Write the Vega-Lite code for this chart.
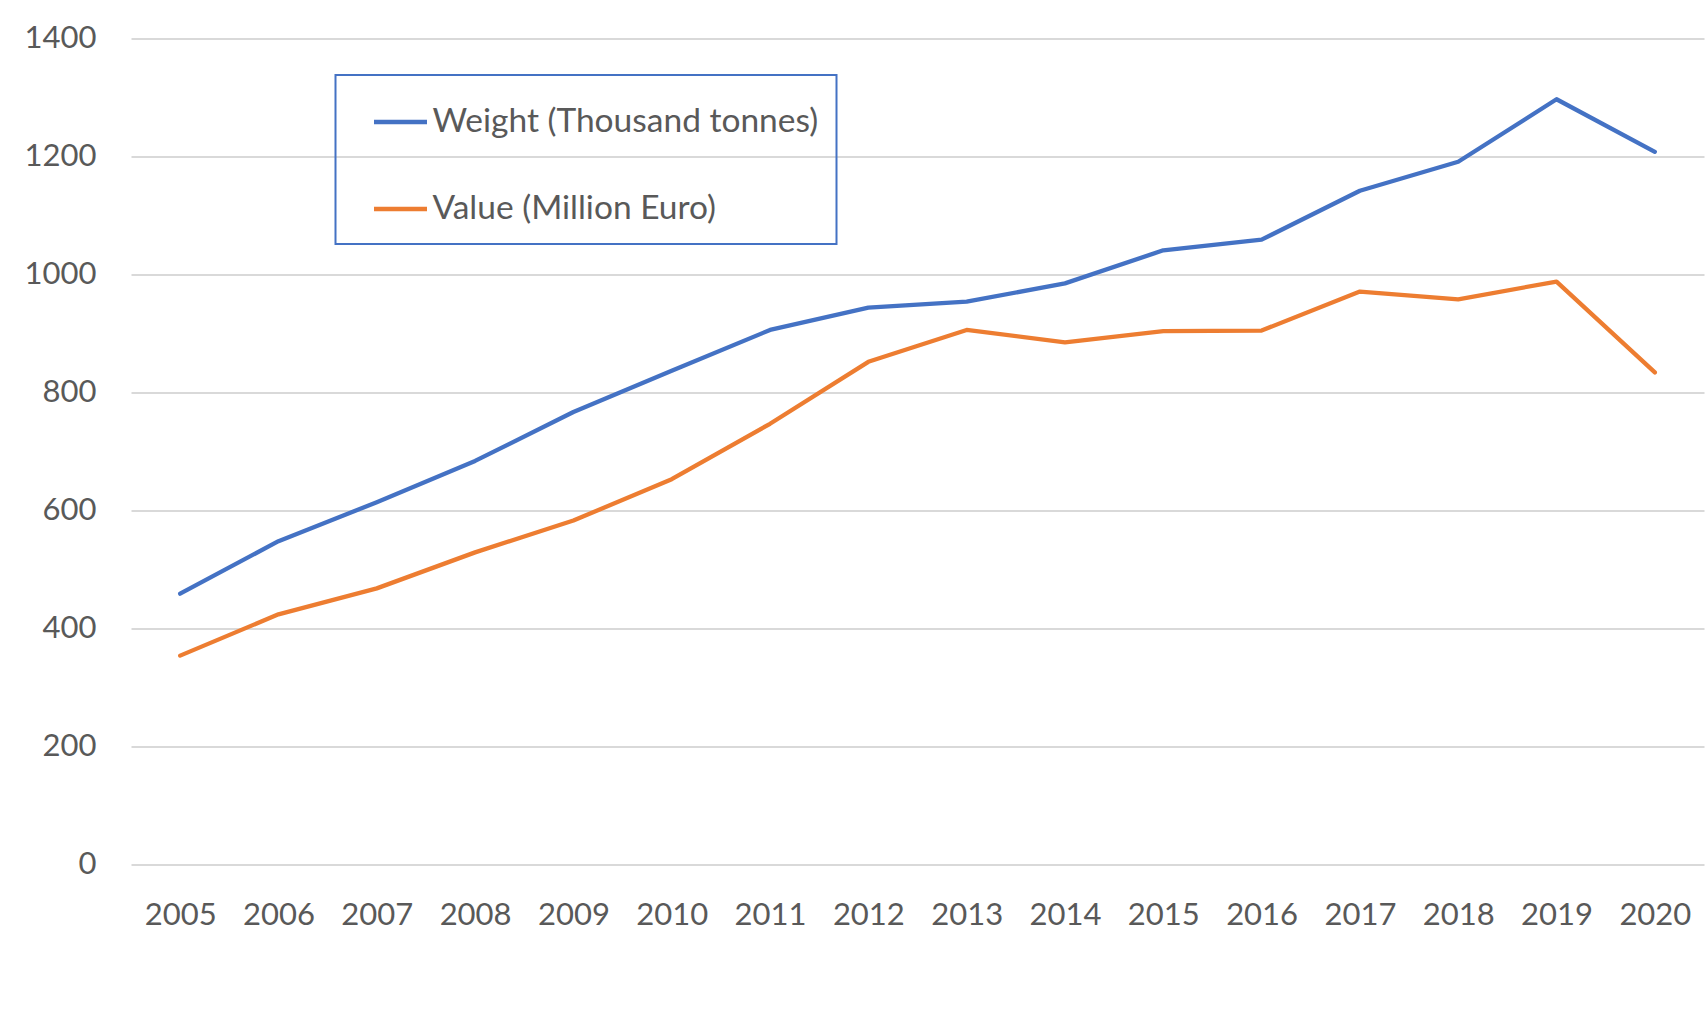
{
  "$schema": "https://vega.github.io/schema/vega-lite/v6.json",
  "width": 1573,
  "height": 826,
  "autosize": {"type": "none"},
  "padding": {"left": 131, "top": 38.5, "right": 4, "bottom": 155.5},
  "background": "white",
  "data": {
    "values": [
      {"year": "2005", "series": "Weight (Thousand tonnes)", "v": 459},
      {"year": "2006", "series": "Weight (Thousand tonnes)", "v": 548},
      {"year": "2007", "series": "Weight (Thousand tonnes)", "v": 614},
      {"year": "2008", "series": "Weight (Thousand tonnes)", "v": 684},
      {"year": "2009", "series": "Weight (Thousand tonnes)", "v": 767},
      {"year": "2010", "series": "Weight (Thousand tonnes)", "v": 837},
      {"year": "2011", "series": "Weight (Thousand tonnes)", "v": 906},
      {"year": "2012", "series": "Weight (Thousand tonnes)", "v": 944},
      {"year": "2013", "series": "Weight (Thousand tonnes)", "v": 954},
      {"year": "2014", "series": "Weight (Thousand tonnes)", "v": 985},
      {"year": "2015", "series": "Weight (Thousand tonnes)", "v": 1041},
      {"year": "2016", "series": "Weight (Thousand tonnes)", "v": 1059},
      {"year": "2017", "series": "Weight (Thousand tonnes)", "v": 1142},
      {"year": "2018", "series": "Weight (Thousand tonnes)", "v": 1191},
      {"year": "2019", "series": "Weight (Thousand tonnes)", "v": 1297},
      {"year": "2020", "series": "Weight (Thousand tonnes)", "v": 1208},
      {"year": "2005", "series": "Value (Million Euro)", "v": 354},
      {"year": "2006", "series": "Value (Million Euro)", "v": 424},
      {"year": "2007", "series": "Value (Million Euro)", "v": 468},
      {"year": "2008", "series": "Value (Million Euro)", "v": 529},
      {"year": "2009", "series": "Value (Million Euro)", "v": 583},
      {"year": "2010", "series": "Value (Million Euro)", "v": 653},
      {"year": "2011", "series": "Value (Million Euro)", "v": 747},
      {"year": "2012", "series": "Value (Million Euro)", "v": 852},
      {"year": "2013", "series": "Value (Million Euro)", "v": 906},
      {"year": "2014", "series": "Value (Million Euro)", "v": 885},
      {"year": "2015", "series": "Value (Million Euro)", "v": 904},
      {"year": "2016", "series": "Value (Million Euro)", "v": 905},
      {"year": "2017", "series": "Value (Million Euro)", "v": 971},
      {"year": "2018", "series": "Value (Million Euro)", "v": 958},
      {"year": "2019", "series": "Value (Million Euro)", "v": 988},
      {"year": "2020", "series": "Value (Million Euro)", "v": 834}
    ]
  },
  "mark": {"type": "line", "strokeWidth": 4.3, "strokeCap": "round", "strokeJoin": "round"},
  "encoding": {
    "x": {
      "field": "year",
      "type": "ordinal",
      "scale": {"type": "point", "padding": 0.5},
      "axis": {
        "title": null,
        "domain": false,
        "ticks": false,
        "grid": false,
        "labelAngle": 0,
        "labelPadding": 35.5,
        "labelFont": "Lato",
        "labelFontSize": 31,
        "labelColor": "#595959"
      }
    },
    "y": {
      "field": "v",
      "type": "quantitative",
      "scale": {"domain": [0, 1400], "nice": false},
      "axis": {
        "title": null,
        "values": [0, 200, 400, 600, 800, 1000, 1200, 1400],
        "format": "d",
        "domain": false,
        "ticks": false,
        "grid": true,
        "gridColor": "#D9D9D9",
        "gridWidth": 2,
        "labelPadding": 35,
        "labelFont": "Lato",
        "labelFontSize": 31,
        "labelColor": "#595959"
      }
    },
    "color": {
      "field": "series",
      "type": "nominal",
      "scale": {
        "domain": ["Weight (Thousand tonnes)", "Value (Million Euro)"],
        "range": ["#4472C4", "#ED7D31"]
      },
      "legend": {
        "title": null,
        "orient": "none",
        "legendX": 204.5,
        "legendY": 36.5,
        "strokeColor": "#4472C4",
        "padding": 18,
        "symbolType": "stroke",
        "symbolSize": 2809,
        "symbolStrokeWidth": 4.3,
        "symbolOffset": 18,
        "labelOffset": 3,
        "rowPadding": 41,
        "labelFont": "Lato",
        "labelFontSize": 33.5,
        "labelColor": "#595959",
        "labelLimit": 600
      }
    }
  },
  "config": {
    "view": {"stroke": null},
    "legend": {"strokeWidth": 2}
  }
}
